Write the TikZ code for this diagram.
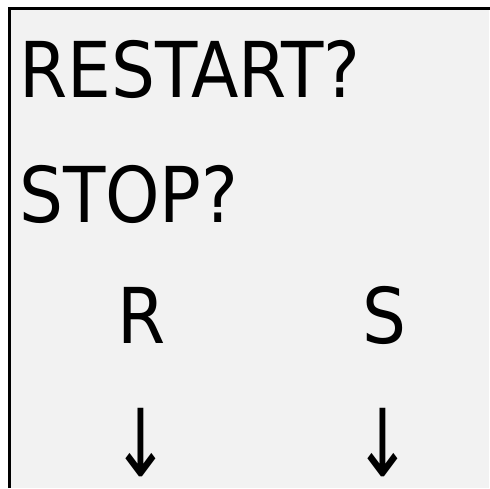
\documentclass[tikz,border=0pt]{standalone}
\usepackage{fontspec}
\usepackage{graphicx}
\newfontfamily\boxfont{DejaVu Sans Condensed}
\definecolor{panel}{HTML}{F2F2F2}
\tikzset{
  big/.style={font=\boxfont\fontsize{77}{77}\selectfont, inner sep=0pt, text=black},
  arrowglyph/.style={font=\boxfont\fontsize{78}{78}\selectfont, inner sep=0pt, text=black},
}
\begin{document}
\begin{tikzpicture}[x=1pt,y=-1pt]
\useasboundingbox (0,0) rectangle (490,488);
\fill[white] (0,0) rectangle (490,488);
\fill[panel] (9,8) rectangle (489,488);
\draw[line width=3pt] (9,488) -- (9,8) -- (490,8);
\node[big, anchor=base west] (q1) at (19,97) {RESTART?};
\node[big, anchor=base west] (q2) at (19,222) {STOP?};
\node[big, anchor=base] (r) at (142,343) {R};
\node[big, anchor=base] (s) at (384,343) {S};
\node[arrowglyph, anchor=south] (ar) at (141,477) {\scalebox{1}[1.2]{↓}};
\node[arrowglyph, anchor=south] (as) at (383,477) {\scalebox{1}[1.2]{↓}};
\end{tikzpicture}
\end{document}
